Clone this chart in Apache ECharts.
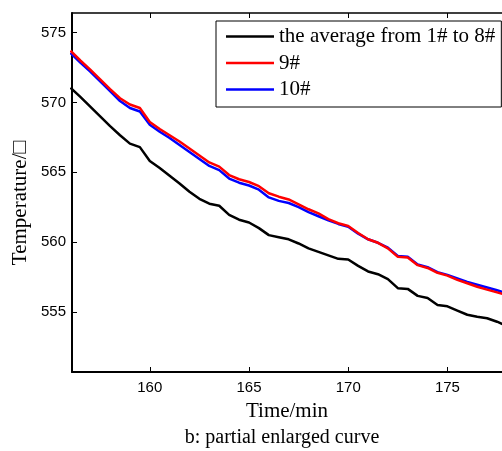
<!DOCTYPE html>
<html>
<head>
<meta charset="utf-8">
<style>
  html, body { margin: 0; padding: 0; background: #fff; }
  #chart { width: 502px; height: 451px; }
</style>
<script src="https://cdn.jsdelivr.net/npm/echarts@6/dist/echarts.min.js"></script>
</head>
<body>
<div id="chart"></div>
<script>
// time axis (min), sampled every half minute
const times = [156, 156.5, 157, 157.5, 158, 158.5, 159, 159.5, 160, 160.5,
  161, 161.5, 162, 162.5, 163, 163.5, 164, 164.5, 165, 165.5,
  166, 166.5, 167, 167.5, 168, 168.5, 169, 169.5, 170, 170.5,
  171, 171.5, 172, 172.5, 173, 173.5, 174, 174.5, 175, 175.5,
  176, 176.5, 177, 177.5, 178]

const avgTemps = [571.05, 570.4, 569.7, 569.0, 568.3, 567.65, 567.05, 566.8, 565.8, 565.3,
  564.75, 564.2, 563.6, 563.1, 562.75, 562.6, 561.95, 561.6, 561.4, 561.0,
  560.5, 560.35, 560.2, 559.9, 559.55, 559.3, 559.05, 558.8, 558.75, 558.3,
  557.9, 557.7, 557.35, 556.7, 556.65, 556.15, 556.0, 555.5, 555.4, 555.1,
  554.8, 554.65, 554.55, 554.3, 554.0]

const temps9 = [573.7, 573.0, 572.35, 571.65, 570.95, 570.3, 569.85, 569.6, 568.6, 568.1,
  567.65, 567.2, 566.7, 566.2, 565.7, 565.4, 564.8, 564.5, 564.3, 564.0,
  563.5, 563.25, 563.05, 562.7, 562.35, 562.05, 561.65, 561.35, 561.15, 560.65,
  560.2, 559.95, 559.55, 558.95, 558.9, 558.35, 558.15, 557.8, 557.6, 557.3,
  557.05, 556.8, 556.6, 556.4, 556.2]

const temps10 = [573.55, 572.85, 572.2, 571.5, 570.8, 570.1, 569.6, 569.35, 568.4, 567.9,
  567.45, 566.95, 566.45, 565.95, 565.45, 565.15, 564.55, 564.25, 564.05, 563.75,
  563.2, 562.95, 562.8, 562.5, 562.15, 561.85, 561.55, 561.3, 561.1, 560.6,
  560.2, 559.95, 559.6, 559.0, 558.95, 558.4, 558.2, 557.85, 557.65, 557.4,
  557.15, 556.95, 556.75, 556.55, 556.35]

const xTicks = [160, 165, 170, 175]
const yTicks = [555, 560, 565, 570, 575]
const seriesNames = ['the average from 1# to 8#', '9#', '10#']
const seriesColors = ['#000000', '#ff0000', '#0000ff']

const serif = 'Liberation Serif'
const sans = 'Liberation Sans'

function pairs(values) {
  return times.map((t, i) => [t, values[i]])
}

const chart = echarts.init(document.getElementById('chart'))

const option = {
  animation: false,
  grid: { left: 72, top: 13, right: 0, bottom: 79 },
  legend: {
    orient: 'vertical',
    left: 216,
    top: 21,
    padding: [5, 6, 7, 10],
    icon: 'rect',
    itemWidth: 48,
    itemHeight: 2.5,
    itemGap: 5.5,
    borderColor: '#000',
    borderWidth: 1,
    backgroundColor: '#fff',
    textStyle: { fontFamily: serif, fontSize: 21, color: '#000' },
    data: seriesNames
  },
  xAxis: [
    {
      type: 'value',
      min: 156.08,
      max: 177.75,
      name: 'Time/min',
      nameLocation: 'middle',
      nameGap: 29,
      nameTextStyle: { fontFamily: serif, fontSize: 21, color: '#000' },
      axisLine: { lineStyle: { color: '#000', width: 2 } },
      axisTick: { inside: true, length: 5, customValues: xTicks, lineStyle: { color: '#000' } },
      axisLabel: { customValues: xTicks, margin: 8, fontFamily: sans, fontSize: 15, color: '#000' },
      splitLine: { show: false }
    },
    {
      type: 'value',
      position: 'top',
      min: 156.08,
      max: 177.75,
      axisLine: { lineStyle: { color: '#000', width: 1.5 } },
      axisTick: { inside: true, length: 5, customValues: xTicks, lineStyle: { color: '#000' } },
      axisLabel: { show: false },
      splitLine: { show: false }
    }
  ],
  yAxis: {
    type: 'value',
    min: 550.7,
    max: 576.4,
    axisLine: { show: true, lineStyle: { color: '#000', width: 2 } },
    axisTick: { show: true, inside: true, length: 5, customValues: yTicks, lineStyle: { color: '#000' } },
    axisLabel: { customValues: yTicks, margin: 6, fontFamily: sans, fontSize: 15, color: '#000' },
    splitLine: { show: false }
  },
  graphic: [
    {
      type: 'text',
      x: 20,
      y: 203,
      rotation: Math.PI / 2,
      style: {
        text: 'Temperature/□',
        fontFamily: serif,
        fontSize: 21,
        fill: '#000',
        align: 'center',
        verticalAlign: 'middle'
      }
    },
    {
      type: 'text',
      x: 282,
      y: 438,
      style: {
        text: 'b: partial enlarged curve',
        fontFamily: serif,
        fontSize: 20,
        fill: '#000',
        align: 'center',
        verticalAlign: 'middle'
      }
    }
  ],
  series: [avgTemps, temps9, temps10].map((vals, i) => ({
    name: seriesNames[i],
    type: 'line',
    xAxisIndex: 0,
    symbol: 'none',
    data: pairs(vals),
    lineStyle: { color: seriesColors[i], width: 2.5 },
    itemStyle: { color: seriesColors[i] },
    z: 3 - i
  }))
}

chart.setOption(option)
window.addEventListener('resize', () => {
  chart.resize()
})
</script>
</body>
</html>
